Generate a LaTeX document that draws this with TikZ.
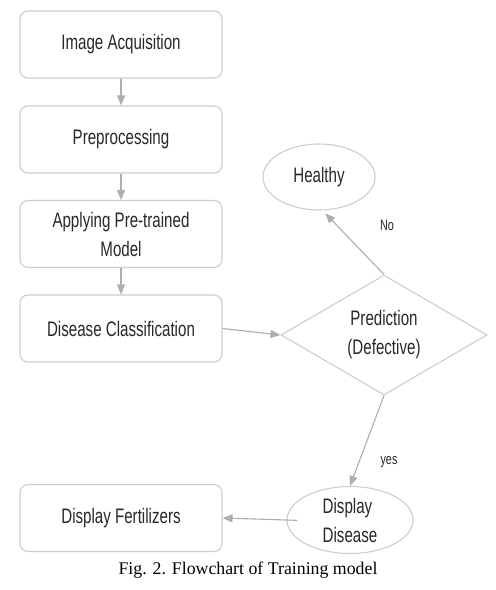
\documentclass[tikz,border=0pt]{standalone}
\usepackage{fontspec}
\setmainfont{Liberation Serif}
\newfontfamily\condsans[FakeStretch=0.72]{Liberation Sans}
\usetikzlibrary{shapes.geometric,arrows.meta}
\definecolor{boxline}{RGB}{205,205,205}
\definecolor{arrowline}{RGB}{175,175,175}
\definecolor{txt}{RGB}{40,40,40}
\tikzset{
  stepbox/.style={draw=boxline, line width=1.1pt, rounded corners=8pt, minimum width=202pt, minimum height=67pt, inner sep=0pt, align=center, text=txt, font=\condsans\fontsize{21}{29}\selectfont},
  ellbox/.style={ellipse, draw=boxline, line width=1.1pt, inner sep=0pt, text=txt, font=\condsans\fontsize{21}{29}\selectfont},
  decbox/.style={diamond, draw=boxline, line width=1.1pt, inner sep=0pt, aspect=1.72, minimum width=206pt, minimum height=120pt, align=center, text=txt, font=\condsans\fontsize{21}{29}\selectfont},
  conn/.style={draw=arrowline, line width=1.1pt, -{Triangle[length=10pt,width=8pt]}, fill=arrowline},
  lbl/.style={text=txt, font=\condsans\fontsize{15}{17}\selectfont, inner sep=0pt}
}
\begin{document}
\begin{tikzpicture}[x=1pt,y=-1pt]
\useasboundingbox[fill=white] (0,0) rectangle (496,590);
\node[stepbox] (b1) at (121,44.5) {Image Acquisition};
\node[stepbox] (b2) at (121,139.5) {Preprocessing};
\node[stepbox] (b3) at (121,234) {Applying Pre-trained\\Model};
\node[stepbox] (b4) at (121,328.5) {Disease Classification};
\node[stepbox] (b5) at (121,518) {Display Fertilizers};
\node[decbox] (pred) at (384,335) {Prediction\\(Defective)};
\node[ellbox, minimum width=112pt, minimum height=66pt] (healthy) at (319,177) {Healthy};
\node[ellbox, minimum width=126pt, minimum height=67pt, align=left] (disease) at (350,520) {Display\\Disease};
\draw[conn] (b1) -- (b2);
\draw[conn] (b2) -- (b3);
\draw[conn] (b3) -- (b4);
\draw[conn] (b4.east) -- (pred.west);
\draw[conn, shorten >=4pt] (pred.north) -- (healthy.-84);
\draw[conn] (pred.south) -- (disease.north);
\draw[conn, shorten <=-11pt] (disease.west) -- (b5.east);
\node[lbl] (no) at (387,225) {No};
\node[lbl] (yes) at (389,462) {yes};
\node[font=\fontsize{17.8}{20}\selectfont, inner sep=0pt] (cap) at (248,570) {Fig. 2. Flowchart of Training model};
\end{tikzpicture}
\end{document}
